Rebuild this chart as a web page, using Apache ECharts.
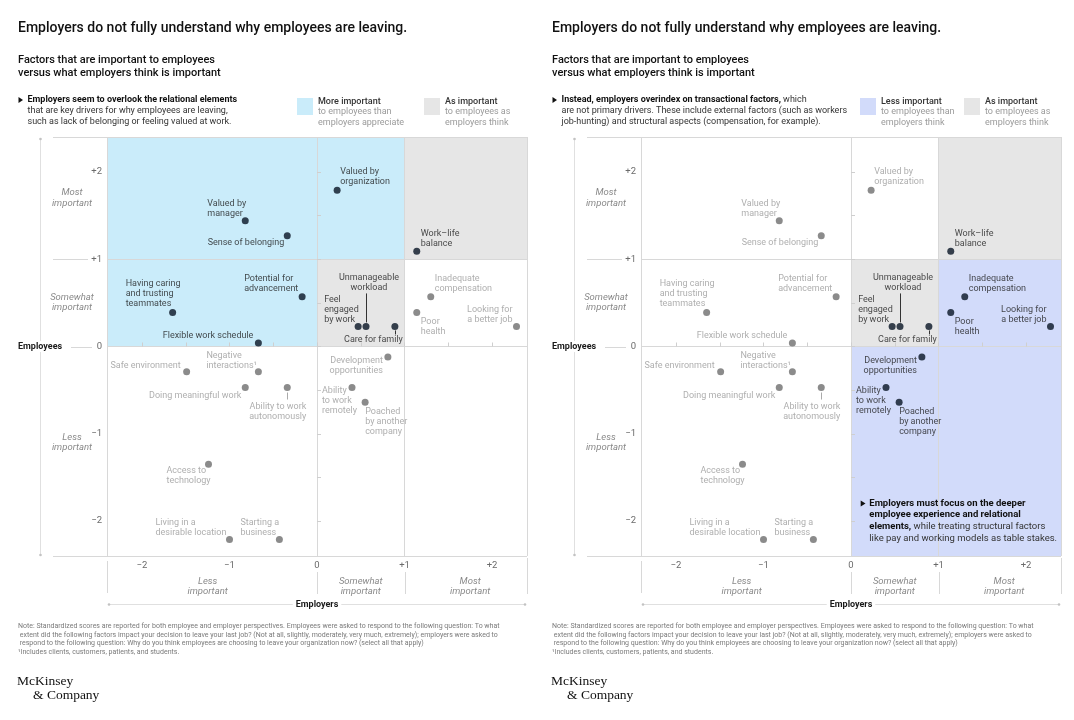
<!DOCTYPE html>
<html><head><meta charset="utf-8">
<script src="https://cdn.jsdelivr.net/npm/echarts@6/dist/echarts.min.js"></script>
<style>html,body{margin:0;padding:0;background:#fff}#c{width:1074px;height:720px}</style>
</head><body><div id="c"></div>
<script>
// ---------------- DATA ----------------
const factors = [
  'Valued by\nmanager','Sense of belonging','Potential for\nadvancement','Having caring\nand trusting\nteammates',
  'Flexible work schedule','Valued by\norganization','Work–life\nbalance','Feel\nengaged\nby work',
  'Unmanageable\nworkload','Care for family','Inadequate\ncompensation','Poor\nhealth',
  'Looking for\na better job','Safe environment','Negative\ninteractions¹','Doing meaningful work',
  'Ability to work\nautonomously','Access to\ntechnology','Living in a\ndesirable location','Starting a\nbusiness',
  'Development\nopportunities','Ability\nto work\nremotely','Poached\nby another\ncompany'
];
const employerScore = [-0.82,-0.34,-0.17,-1.65,-0.67,0.23,1.14,0.47,0.56,0.89,1.30,1.14,2.28,-1.49,-0.67,-0.82,-0.34,-1.24,-1.00,-0.43,0.81,0.40,0.55];
const employeeScore = [1.44,1.27,0.57,0.39,0.04,1.79,1.09,0.23,0.23,0.23,0.57,0.39,0.23,-0.29,-0.29,-0.47,-0.47,-1.35,-2.21,-2.21,-0.12,-0.47,-0.64];
const leftHighlighted = factors.slice(0, 10);
const rightHighlighted = ['Work–life\nbalance','Feel\nengaged\nby work','Unmanageable\nworkload','Care for family',
  'Inadequate\ncompensation','Poor\nhealth','Looking for\na better job','Development\nopportunities',
  'Ability\nto work\nremotely','Poached\nby another\ncompany'];
const axisMin = -2.4, axisMax = 2.4;
const majorTickValues = [-2,-1,0,1,2];
const majorTickText = ['−2','−1','0','+1','+2'];
const minorTickValues = [-2,-1.5,-1,-0.5,0,0.5,1,1.5,2];
const dividerValues = [0,1];
const importanceLabels = ['Less\nimportant','Somewhat\nimportant','Most\nimportant'];
const leftBlueRegions = [[[-2.4,1],[1,2.4]],[[-2.4,0],[0,1]]];
const grayRegions = [[[1,1],[2.4,2.4]],[[0,0],[1,1]]];
const rightLavenderRegions = [[[1,0],[2.4,1]],[[0,-2.4],[2.4,0]]];

const titleText = 'Employers do not fully understand why employees are leaving.';
const subtitleLines = ['Factors that are important to employees','versus what employers think is important'];
const leftIntro = ['Employers seem to overlook the relational elements','that are key drivers for why employees are leaving,','such as lack of belonging or feeling valued at work.'];
const rightIntro = ['Instead, employers overindex on transactional factors,',' which','are not primary drivers. These include external factors (such as workers','job-hunting) and structural aspects (compensation, for example).'];
const leftLegend = [['More important','to employees than','employers appreciate'],['As important','to employees as','employers think']];
const rightLegend = [['Less important','to employees than','employers think'],['As important','to employees as','employers think']];
const rightCallout = ['Employers must focus on the deeper','employee experience and relational','elements,',' while treating structural factors','like pay and working models as table stakes.'];
const noteLines = [
  'Note: Standardized scores are reported for both employee and employer perspectives. Employees were asked to respond to the following question: To what',
  ' extent did the following factors impact your decision to leave your last job? (Not at all, slightly, moderately, very much, extremely); employers were asked to',
  ' respond to the following question: Why do you think employees are choosing to leave your organization now? (select all that apply)',
  '¹Includes clients, customers, patients, and students.'
];
const logoLines = ['McKinsey','& Company'];

// ---------------- LAYOUT / STYLE ----------------
const FONT = 'Roboto, "Liberation Sans", sans-serif';
const C = {blue:'#caecfa', gray:'#e6e6e6', lav:'#d2dbfa', darkDot:'#081424', grayDot:'#6e6e6e',
  darkText:'#1a1a1a', grayText:'#9a9a9a', rule:'#d8d8d8'};
// [align, verticalAlign, dx, dy] in px relative to the dot
const labelLayout = {
  'Valued by\nmanager':['left','bottom',-38,-2],
  'Sense of belonging':['right','middle',-3,7],
  'Potential for\nadvancement':['left','bottom',-58,-3],
  'Having caring\nand trusting\nteammates':['left','bottom',-47,-4],
  'Flexible work schedule':['right','middle',-5,-7.5],
  'Valued by\norganization':['left','bottom',3,-3],
  'Work–life\nbalance':['left','bottom',4,-3],
  'Feel\nengaged\nby work':['left','bottom',-34,-1.5],
  'Unmanageable\nworkload':['center','bottom',3,-34],
  'Care for family':['right','middle',8,13.5],
  'Inadequate\ncompensation':['left','bottom',4,-3],
  'Poor\nhealth':['left','top',4,4],
  'Looking for\na better job':['right','bottom',-4,-1.5],
  'Safe environment':['right','middle',-6,-6],
  'Negative\ninteractions¹':['left','bottom',-52,-1.5],
  'Doing meaningful work':['right','middle',-4,8.7],
  'Ability to work\nautonomously':['right','top',19,14.3],
  'Access to\ntechnology':['left','top',-42,1],
  'Living in a\ndesirable location':['left','bottom',-74,-2],
  'Starting a\nbusiness':['left','bottom',-39,-2],
  'Development\nopportunities':['right','top',-5,-1],
  'Ability\nto work\nremotely':['left','top',-30,-1.5],
  'Poached\nby another\ncompany':['left','top',0,4.5]
};
const leaderLines = {'Unmanageable\nworkload':[-4,-33],'Care for family':[4,8],'Ability to work\nautonomously':[5,12]};
const importanceY = [-1.1,0.5,1.7];
const importanceX = [-1.25,0.5,1.75];

const panels = [
  {highlighted:leftHighlighted, areas:[[leftBlueRegions,C.blue],[grayRegions,C.gray]], ox:0,
   intro:leftIntro, legend:leftLegend, legendX:[297,424], legendColors:[C.blue,C.gray]},
  {highlighted:rightHighlighted, areas:[[grayRegions,C.gray],[rightLavenderRegions,C.lav]], ox:534,
   intro:rightIntro, legend:rightLegend, legendX:[326,430], legendColors:[C.lav,C.gray]}
];

const chart = echarts.init(document.getElementById('c'), null, {renderer:'canvas', width:1074, height:720});

function axis(g){
  return {type:'value', gridIndex:g, min:axisMin, max:axisMax, z:3,
    axisLine:{show:false}, splitLine:{show:false},
    axisTick:{show:true, inside:true, length:4, customValues:minorTickValues, lineStyle:{color:'#cfcfcf'}},
    axisLabel:{customValues:majorTickValues, formatter:v => majorTickText[majorTickValues.indexOf(v)] ?? '',
      color:'#6b6b6b', fontSize:9.5, fontFamily:FONT, margin:5}};
}
function pointData(list){
  const out = [];
  factors.forEach((n,i) => {
    if (!list(n)) return;
    const L = labelLayout[n];
    out.push({name:n, value:[employerScore[i], employeeScore[i]],
      label:{align:L[0], verticalAlign:L[1], offset:[L[2], L[3]]}});
  });
  return out;
}
const series = [];
panels.forEach((p,g) => {
  const areaData = [];
  p.areas.forEach(([regs,col]) => regs.forEach(r => areaData.push([
    {xAxis:r[0][0], yAxis:r[0][1], itemStyle:{color:col}}, {xAxis:r[1][0], yAxis:r[1][1]}])));
  const mlData = [];
  dividerValues.forEach(v => { mlData.push({xAxis:v}); mlData.push({yAxis:v}); });
  [axisMin, axisMax].forEach(v => { mlData.push({xAxis:v}); mlData.push({yAxis:v}); });
  [false,true].forEach(dark => {
    const s = {type:'scatter', xAxisIndex:g, yAxisIndex:g, z: dark ? 4 : 3, symbolSize:7,
      itemStyle:{color: dark ? C.darkDot : C.grayDot}, emphasis:{disabled:true}, silent:true,
      label:{show:true, position:'inside', formatter:'{b}', color: dark ? C.darkText : C.grayText,
        fontSize:9, lineHeight:10, fontFamily:FONT},
      data: pointData(n => dark === p.highlighted.includes(n))};
    if (!dark) {
      s.markArea = {silent:true, z:1, data:areaData, label:{show:false}};
      s.markLine = {silent:true, z:2, symbol:'none', label:{show:false}, data:mlData,
        lineStyle:{color:C.rule, type:'solid', width:1}, emphasis:{disabled:true}};
    }
    series.push(s);
  });
});

chart.setOption({
  animation:false, backgroundColor:'#fff',
  grid:[{left:107, top:137, width:420, height:419, show:false},{left:641, top:137, width:420, height:419, show:false}],
  xAxis:[axis(0), axis(1)], yAxis:[axis(0), axis(1)], series
});

// ---------------- ANNOTATIONS ----------------
const els = [];
const rr = v => Math.round(v) + 0.5;
const line = (x1,y1,x2,y2,c) => els.push({type:'line', silent:true, z:10, shape:{x1,y1,x2,y2}, style:{stroke:c||C.rule, lineWidth:1}});
const dot = (x,y) => els.push({type:'circle', silent:true, z:10, shape:{cx:x, cy:y, r:1.3}, style:{fill:'#c2c2c2'}});
const text = (x,y,t,st) => els.push({type:'text', silent:true, z:11, x, y, style:Object.assign({text:t, fontFamily:FONT, fill:'#222', fontSize:9}, st)});

panels.forEach((p,g) => {
  const toPx = (x,y) => chart.convertToPixel({gridIndex:g}, [x,y]);
  const [L,T] = toPx(axisMin, axisMax);
  const [R,B] = toPx(axisMax, axisMin);
  const [X0,Y0] = toPx(0,0);
  const [X1,Y1] = toPx(1,1);
  const ax = rr(L-67);
  line(ax, T+2, ax, B-1, '#e0e0e0'); dot(ax, T+2); dot(ax, B-1);
  line(L-54, rr(T), L, rr(T)); line(L-54, rr(B), L, rr(B));
  line(L-54, rr(Y1), L-19, rr(Y1)); line(L-36, rr(Y0), L-15, rr(Y0));
  text(L-90, Y0, 'Employees', {fontWeight:'bold', verticalAlign:'middle', backgroundColor:'#fff', padding:[1,1], fill:'#1a1a1a'});
  importanceLabels.forEach((t,i) => {
    text(L-35, toPx(0, importanceY[i])[1], t, {align:'center', verticalAlign:'middle', fontStyle:'italic', fontSize:9.5, lineHeight:10.5, fill:'#8a8a8a'});
    text(toPx(importanceX[i],0)[0], B+30.5, t, {align:'center', verticalAlign:'middle', fontStyle:'italic', fontSize:9.5, lineHeight:10.5, fill:'#8a8a8a'});
  });
  line(rr(L), B+5, rr(L), B+37); line(rr(R), B+2, rr(R), B+38);
  line(rr(X0), B+16, rr(X0), B+38); line(rr(X1), B+16, rr(X1), B+38);
  const ey = rr(B+48);
  line(L+2, ey, R-2, ey, '#e0e0e0'); dot(L+2, ey); dot(R-2, ey);
  text(X0, ey, 'Employers', {fontWeight:'bold', align:'center', verticalAlign:'middle', backgroundColor:'#fff', padding:[1,3], fill:'#1a1a1a'});
  factors.forEach((n,i) => {
    const ld = leaderLines[n]; if (!ld) return;
    const [px,py] = toPx(employerScore[i], employeeScore[i]);
    line(rr(px), py+ld[0], rr(px), py+ld[1], p.highlighted.includes(n) ? '#333' : '#aaa');
  });
  const ox = p.ox;
  text(ox+18, 28, titleText, {fontSize:14, fontWeight:500, verticalAlign:'middle', fill:'#111'});
  text(ox+18, 54.5, subtitleLines.join('\n'), {fontSize:11, fontWeight:500, lineHeight:12.2, verticalAlign:'top', fill:'#111'});
  els.push({type:'polygon', silent:true, z:11, shape:{points:[[ox+18.5,97],[ox+23,100],[ox+18.5,103]]}, style:{fill:'#111'}});
  let introRich;
  if (g === 0) introRich = '{b|'+p.intro[0]+'}\n{n|'+p.intro[1]+'}\n{n|'+p.intro[2]+'}';
  else introRich = '{b|'+p.intro[0]+'}{n|'+p.intro[1]+'}\n{n|'+p.intro[2]+'}\n{n|'+p.intro[3]+'}';
  text(ox+27.5, 94.5, introRich, {verticalAlign:'top', lineHeight:11,
    rich:{b:{fontFamily:FONT, fontSize:9, fontWeight:'bold', fill:'#111', lineHeight:11},
          n:{fontFamily:FONT, fontSize:9, fill:'#333', lineHeight:11}}});
  p.legend.forEach((lg,k) => {
    const lx = ox + p.legendX[k];
    els.push({type:'rect', silent:true, z:10, shape:{x:lx, y:98, width:16, height:17}, style:{fill:p.legendColors[k]}});
    text(lx+21, 96, '{h|'+lg[0]+'}\n{s|'+lg[1]+'}\n{s|'+lg[2]+'}', {verticalAlign:'top', lineHeight:10.5,
      rich:{h:{fontFamily:FONT, fontSize:9, fontWeight:500, fill:'#333', lineHeight:10.5},
            s:{fontFamily:FONT, fontSize:9, fill:'#9a9a9a', lineHeight:10.5}}});
  });
  text(ox+18, 622, noteLines.join('\n'), {fontSize:7, lineHeight:8.6, verticalAlign:'top', fill:'#7a7a7a'});
  text(ox+17, 681.5, logoLines[0], {fontFamily:'"Liberation Serif", "DejaVu Serif", serif', fontSize:13.5, verticalAlign:'middle', fill:'#111'});
  text(ox+33, 695, logoLines[1], {fontFamily:'"Liberation Serif", "DejaVu Serif", serif', fontSize:13.5, verticalAlign:'middle', fill:'#111'});
  if (g === 1) {
    els.push({type:'polygon', silent:true, z:11, shape:{points:[[860.7,500.5],[865.5,503.5],[860.7,506.5]]}, style:{fill:'#111'}});
    const c = rightCallout;
    text(869.3, 497.5, '{b|'+c[0]+'}\n{b|'+c[1]+'}\n{b|'+c[2]+'}{n|'+c[3]+'}\n{n|'+c[4]+'}', {verticalAlign:'top', lineHeight:11.7,
      rich:{b:{fontFamily:FONT, fontSize:9.5, fontWeight:'bold', fill:'#111', lineHeight:11.7},
            n:{fontFamily:FONT, fontSize:9.5, fill:'#333', lineHeight:11.7}}});
  }
});
chart.setOption({graphic:{elements:els}});
</script></body></html>
